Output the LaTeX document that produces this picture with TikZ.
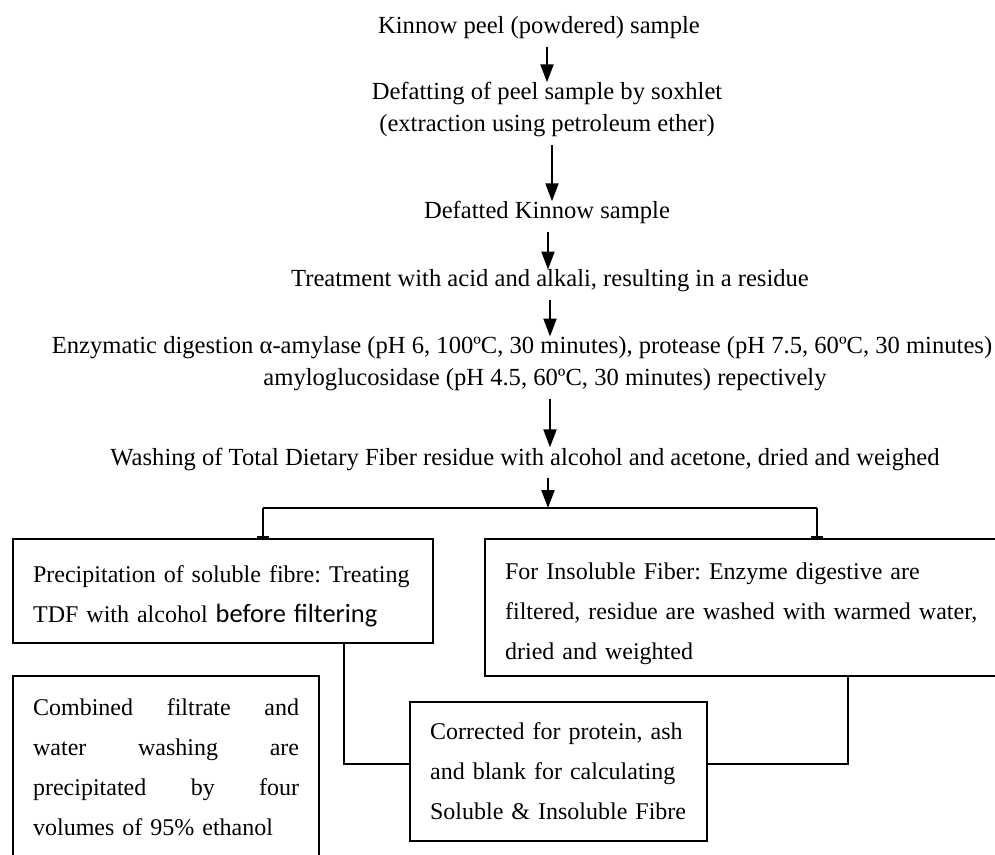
\documentclass[tikz,border=0pt]{standalone}
\usepackage{fontspec}
\setmainfont{Liberation Serif}
\newfontfamily\sansfont{Carlito}
\usetikzlibrary{arrows.meta}
\newcommand{\boxfont}{\fontsize{12}{20}\selectfont\frenchspacing\hyphenpenalty 10000\relax}
\newcommand{\toppad}{\rule{0pt}{14pt}}

\begin{document}
\begin{tikzpicture}[x=0.5pt,y=-0.5pt,
    stage/.style={inner sep=2pt,align=center,anchor=base,
      font=\fontsize{12.3}{16}\selectfont},
    box/.style={draw,line width=1.1pt,anchor=north west,inner xsep=10pt,
      inner ysep=0pt,align=left,font=\boxfont},
    arr/.style={line width=1.1pt,-{Triangle[width=6.5pt,length=9pt]},
      shorten <=1.5pt,shorten >=-2pt},
    link/.style={line width=1.1pt},
    tee/.style={line width=1.1pt,-{Bar[width=6pt]}}]
  \useasboundingbox (0,0) rectangle (995,855);
  \clip (0,0) rectangle (995,855);
  % main sequence (base = last line)
  \node[stage] (kinnow) at (539,34) {Kinnow peel (powdered) sample};
  \node[stage] (defat) at (547,132)
    {Defatting of peel sample by soxhlet\\(extraction using petroleum ether)};
  \node[stage] (defatted) at (547,219) {Defatted Kinnow sample};
  \node[stage] (treat) at (550,287)
    {Treatment with acid and alkali, resulting in a residue};
  \node[stage] (enzyme) at (522,386)
    {Enzymatic digestion α-amylase (pH 6, 100ºC, 30 minutes), protease (pH 7.5, 60ºC, 30 minutes)\\
     \hspace*{23pt}amyloglucosidase (pH 4.5, 60ºC, 30 minutes) repectively};
  \node[stage] (wash) at (525,465)
    {Washing of Total Dietary Fiber residue with alcohol and acetone, dried and weighed};
  \coordinate (forkL) at (263,508);
  \coordinate (forkM) at (548,508);
  \coordinate (forkR) at (817,508);
  % boxes
  \node[box,text width=190pt,minimum height=52pt] (soluble) at (12,538)
    {\toppad Precipitation of soluble fibre: Treating\\
     TDF with alcohol {\sansfont\fontsize{13.2}{20}\selectfont before filtering}};
  \node[box,text width=238pt,minimum height=68.5pt] (insoluble) at (484,538)
    {\toppad For Insoluble Fiber: Enzyme digestive are\\
     filtered, residue are washed with warmed water,\\
     dried and weighted};
  \node[box,text width=133pt,minimum height=91pt] (ethanol) at (12,675)
    {\makebox[133pt][s]{Combined\hfill filtrate\hfill and}\\
     \makebox[133pt][s]{water\hfill washing\hfill are}\\
     \makebox[133pt][s]{precipitated\hfill by\hfill four}\\
     volumes of 95\% ethanol};
  \node[box,text width=128.5pt,minimum height=69.5pt] (corrected) at (409,701)
    {Corrected for protein, ash\\and blank for calculating\\Soluble \& Insoluble Fibre};
  % arrows
  \foreach \a/\b/\x in {kinnow/defat/547,defat/defatted/552,defatted/treat/548,
      treat/enzyme/550,enzyme/wash/550}
    \draw[arr] (\a.south -| \x,0) -- (\b.north -| \x,0);
  \draw[arr,shorten >=0pt] (wash.south -| forkM) -- (forkM);
  \draw[link] (forkL) -- (forkR);
  \draw[tee] (forkL) -- (forkL |- soluble.north);
  \draw[tee] (forkR) -- (forkR |- insoluble.north);
  \draw[link] (soluble.south -| 344,0) |- ([yshift=4pt]corrected.west);
  \draw[link] (insoluble.south -| 848,0) |- ([yshift=4pt]corrected.east);
\end{tikzpicture}
\end{document}
